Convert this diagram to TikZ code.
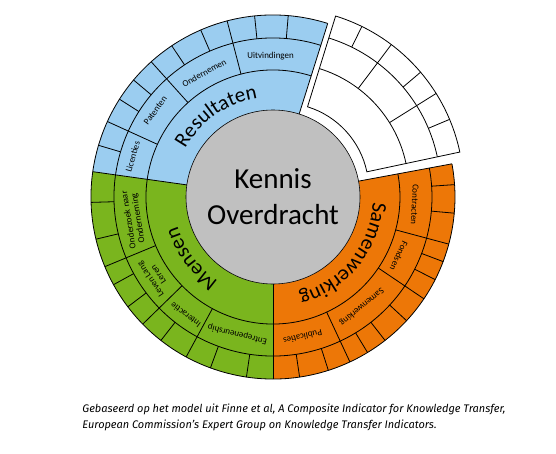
\documentclass[tikz,border=0pt]{standalone}
\usepackage{fontspec}
\setmainfont{Carlito}
\newfontfamily\capfont{Fira Sans}
\usetikzlibrary{decorations.text}
\definecolor{cblue}{RGB}{155,205,240}
\definecolor{cgreen}{RGB}{122,181,30}
\definecolor{corange}{RGB}{237,119,7}
\definecolor{cgrey}{RGB}{192,192,192}
\newcommand\annsec[5]{\path[#5] (#1:#3) arc[start angle=#1,end angle=#2,radius=#3] -- (#2:#4) arc[start angle=#2,end angle=#1,radius=#4] -- cycle;}
\newcommand\arcline[3]{\draw (#1:#3) arc[start angle=#1,end angle=#2,radius=#3];}
\newcommand\radline[3]{\draw (#1:#2) -- (#1:#3);}
\newcommand\curvefont{\fontsize{21}{21}\selectfont}
\begin{document}
\begin{tikzpicture}[x=1pt,y=1pt,line width=0.8pt,
  lbl/.style={font=\fontsize{9}{9.5}\selectfont, align=center, inner sep=0pt},
  curved/.style={decorate, decoration={text along path, text align=center, text={|\curvefont|#1}}}]
\useasboundingbox (-273,-256) rectangle (283,197);
% coloured sectors
\annsec{72.5}{172}{87}{182}{fill=cblue}
\annsec{172}{270}{87}{182}{fill=cgreen}
\annsec{270}{370.5}{87}{182}{fill=corange}
\fill[cgrey] (0,0) circle[radius=87];
\draw[line width=0.6pt] (0,0) circle[radius=87];
\foreach \r in {127,159,182} {\arcline{72.5}{370.5}{\r}}
\foreach \a in {72.5,172,270,370.5} {\radline{\a}{87}{182}}
% middle-ring dividers
\foreach \a in {155.5,132,104.6, 202.5,224.3,241.5, 295,326,345} {\radline{\a}{127}{182}}
% outer-ring dividers
\foreach \a in {163.5,147.5,140,123.8,113.4,95.8,85.2,
                181.7,193.4,208.8,217.1,232,249.9,261.6,
                278.4,287.7,301.3,308,317.2,333,339.2,354.9,363.9} {\radline{\a}{159}{182}}
% exploded white sector
\begin{scope}[shift={(8.8,7.1)}]
\annsec{12}{72.8}{87}{182}{fill=white,draw}
\foreach \r in {127,159} {\arcline{12}{72.8}{\r}}
\foreach \a in {32,53} {\radline{\a}{127}{182}}
\foreach \a in {22.8,40.3,63.9} {\radline{\a}{159}{182}}
\end{scope}
% centre
\node[font=\fontsize{29}{29}\selectfont, anchor=base, inner sep=0pt] (k1) at (0,9) {Kennis};
\node[font=\fontsize{29}{29}\selectfont, anchor=base, inner sep=0pt] (k2) at (0,-27) {Overdracht};
% curved inner labels
\path[curved=Resultaten] (165:100) arc[start angle=165,end angle=85,radius=100];
\path[curved=Mensen] (257:100) arc[start angle=257,end angle=177,radius=100];
\path[curved=Samenwerking] (12:100) arc[start angle=12,end angle=-90,radius=100];
% middle ring labels
\node[lbl, rotate=74] (l1) at (164:146) {Licenties};
\node[lbl, rotate=53.7] (l2) at (143.7:146) {Patenten};
\node[lbl, rotate=29] (l3) at (119:142) {Ondernemen};
\node[lbl, rotate=1] (l4) at (91:141) {Uitvindingen};
\node[lbl, rotate=99] (m1) at (189:141) {Onderzoek naar\\Onderneming};
\node[lbl, rotate=124] (m2) at (214:143) {Leven Lang\\Leren};
\node[lbl, rotate=143.5] (m3) at (233.5:147) {Interactie};
\node[lbl, rotate=165.5] (m4) at (255.5:142) {Entrepeneurship};
\node[lbl, rotate=-93] (s1) at (-3:142) {Contracten};
\node[lbl, rotate=-115] (s2) at (-25:139) {Fondsen};
\node[lbl, rotate=-141] (s3) at (-51:141) {Samenwerking};
\node[lbl, rotate=-168] (s4) at (-78:143) {Publicaties};
% caption
\node[anchor=base west, inner sep=0pt, font=\capfont\itshape\fontsize{11}{13}\selectfont] (cap1) at (-191,-215) {Gebaseerd op het model uit Finne et al, A Composite Indicator for Knowledge Transfer,};
\node[anchor=base west, inner sep=0pt, font=\capfont\itshape\fontsize{11}{13}\selectfont] (cap2) at (-191,-231) {European Commission’s Expert Group on Knowledge Transfer Indicators.};
\end{tikzpicture}
\end{document}
